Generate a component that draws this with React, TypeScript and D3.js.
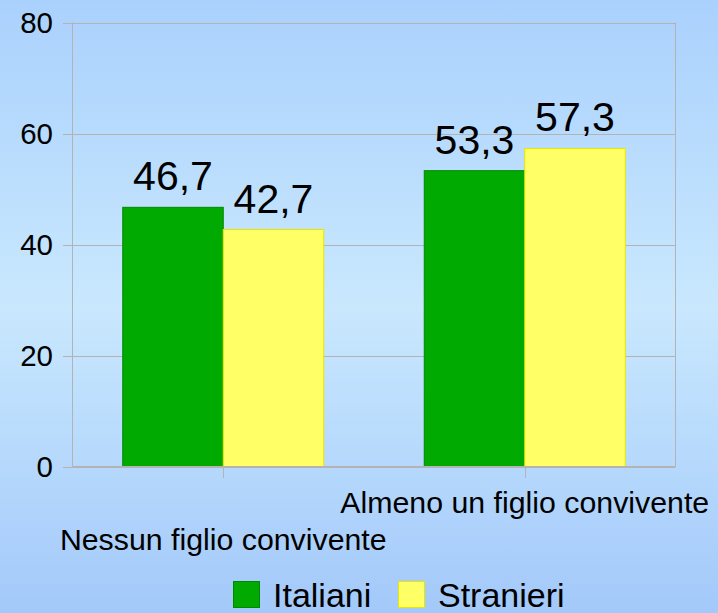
import React from "react";
import * as d3 from "d3";

const categories = ["Nessun figlio convivente", "Almeno un figlio convivente"];
const seriesNames = ["Italiani", "Stranieri"];
const italiani = [46.7, 53.3];
const stranieri = [42.7, 57.3];
const yTicks = [0, 20, 40, 60, 80];
const colors = ["#00aa00", "#ffff66"];
const strokes = ["#008800", "#e6e600"];

export default function App() {
  const W = 718, H = 613;
  const left = 72.5, right = 675.5, top = 22.5, bottom = 466.5;
  const x = d3.scaleBand().domain(categories).range([left, right]);
  const inner = d3.scaleBand().domain(seriesNames).range([0, 201]);
  const y = d3.scaleLinear().domain([0, 80]).range([bottom, top]);
  const values = [italiani, stranieri];
  const font = "Liberation Sans, Arial, sans-serif";
  const fmt = (v: number) => v.toFixed(1).replace(".", ",");
  return (
    <svg width={W} height={H} style={{ position: "absolute", left: 0, top: 0 }} fontFamily={font}>
      <defs>
        <linearGradient id="bg" x1="0" y1="0" x2="0" y2="1">
          <stop offset="0" stopColor="#aad1fd" />
          <stop offset="0.5" stopColor="#c9e8fe" />
          <stop offset="1" stopColor="#a3c9fa" />
        </linearGradient>
      </defs>
      <rect x={0} y={0} width={W} height={H} fill="url(#bg)" />
      {yTicks.map((t) => (
        <g key={t}>
          <line x1={63} x2={right} y1={Math.round(y(t)) + 0.5} y2={Math.round(y(t)) + 0.5} stroke="#b3b3b3" strokeWidth={1} />
          <text x={53} y={y(t) + 10.5} textAnchor="end" fontSize={29.5} fill="#000">{t}</text>
        </g>
      ))}
      <line x1={left} x2={left} y1={top} y2={bottom} stroke="#b3b3b3" />
      <line x1={right} x2={right} y1={top} y2={bottom} stroke="#b3b3b3" />
      {categories.map((c, i) => {
        const cx = (x(c) as number) + x.bandwidth() / 2;
        const gx = cx - 100.5;
        return (
          <g key={c}>
            {seriesNames.map((s, j) => {
              const v = values[j][i];
              const bx = gx + (inner(s) as number);
              const bw = inner.bandwidth();
              return (
                <g key={s}>
                  <rect x={bx} y={y(v)} width={bw} height={bottom - y(v)} fill={colors[j]} stroke={strokes[j]} strokeWidth={1} />
                  <text x={bx + bw / 2} y={y(v) - 17} textAnchor="middle" fontSize={41} fill="#000">{fmt(v)}</text>
                </g>
              );
            })}
            <line x1={Math.round(cx) + 0.5} x2={Math.round(cx) + 0.5} y1={bottom} y2={478} stroke="#b3b3b3" />
            <text x={cx} y={i === 0 ? 550 : 513} textAnchor="middle" fontSize={30.3} fill="#000">{c}</text>
          </g>
        );
      })}
      <line x1={left} x2={right} y1={bottom} y2={bottom} stroke="#b3b3b3" />
      {seriesNames.map((s, j) => {
        const lx = j === 0 ? 233 : 398;
        return (
          <g key={s}>
            <rect x={lx + 0.5} y={581.5} width={26} height={26} fill={colors[j]} stroke={strokes[j]} />
            <text x={lx + 40} y={607} fontSize={34} fill="#000">{s}</text>
          </g>
        );
      })}
    </svg>
  );
}
